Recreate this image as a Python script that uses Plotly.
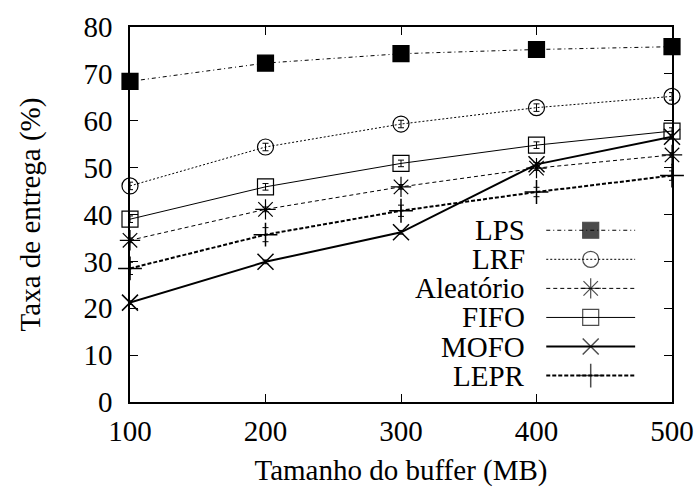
import plotly.graph_objects as go

# Buffer sizes (MB)
buffer_mb = [100, 200, 300, 400, 500]

# Delivery rate (%) per buffer-management policy, with error margins
lps = [68.4, 72.3, 74.3, 75.2, 75.8]
lps_err = [0.4, 0.4, 0.4, 0.4, 0.4]
lrf = [46.1, 54.4, 59.3, 62.8, 65.2]
lrf_err = [0.8, 0.8, 0.8, 0.8, 0.8]
aleatorio = [34.5, 41.1, 45.9, 49.9, 52.7]
aleatorio_err = [0.5, 0.5, 0.5, 0.5, 0.5]
fifo = [39.0, 45.9, 50.9, 54.8, 57.8]
fifo_err = [0.7, 0.7, 0.7, 0.7, 0.7]
mofo = [21.2, 29.9, 36.2, 50.7, 56.6]
mofo_err = [0.4, 0.4, 0.4, 0.4, 0.4]
lepr = [28.5, 35.7, 40.8, 44.8, 48.3]
lepr_err = [1.3, 1.5, 1.2, 1.0, 1.0]

x_ticks = [100, 200, 300, 400, 500]
y_ticks = [0, 10, 20, 30, 40, 50, 60, 70, 80]

FONT = "Liberation Serif"
FS = 29

# name, values, errors, marker symbol, line dash, line width, marker size
series = [
    ("LPS", lps, lps_err, "square", "4px,3px,1px,3px", 1, 16),
    ("LRF", lrf, lrf_err, "circle-open", "2px,2px", 1, 16),
    ("Aleatório", aleatorio, aleatorio_err, "asterisk-open", "4px,3px", 1, 17),
    ("FIFO", fifo, fifo_err, "square-open", "solid", 1, 16),
    ("MOFO", mofo, mofo_err, "x-thin-open", "solid", 2, 16),
    ("LEPR", lepr, lepr_err, "cross-thin-open", "4px,2px", 2, 17),
]

fig = go.Figure()

for name, vals, errs, sym, dash, lw, ms in series:
    fig.add_trace(go.Scatter(
        x=buffer_mb, y=vals, name=name, mode="lines+markers",
        line=dict(color="black", width=lw, dash=dash),
        marker=dict(symbol=sym, size=ms, color="black",
                    line=dict(color="black", width=1.5 if lw > 1 else 1.2)),
        error_y=dict(type="data", array=errs, visible=True,
                     color="black", thickness=1, width=3),
        showlegend=False, cliponaxis=False,
    ))

# Key box in the lower right: label on the left, line sample on the right
key_x0, key_x1 = 0.768, 0.932
key_top, key_step = 0.458, 0.0775
annotations = []
for i, (name, vals, errs, sym, dash, lw, ms) in enumerate(series):
    ky = key_top - i * key_step
    fig.add_trace(go.Scatter(
        x=[key_x0, (key_x0 + key_x1) / 2, key_x1], y=[ky, ky, ky],
        xaxis="x2", yaxis="y2", mode="lines+markers",
        line=dict(color="black", width=lw, dash=dash),
        marker=dict(symbol=sym, size=[0, ms, 0], color="black",
                    line=dict(color="black", width=1.5 if lw > 1 else 1.2)),
        showlegend=False, hoverinfo="skip",
    ))
    annotations.append(dict(
        x=0.7325, y=ky, xref="paper", yref="paper", text=name,
        showarrow=False, xanchor="right", yanchor="middle",
        font=dict(family=FONT, size=FS, color="black"),
    ))

axis_common = dict(
    showgrid=False, zeroline=False, showline=True, linecolor="black",
    linewidth=1.5, mirror="allticks", ticks="inside", ticklen=8,
    tickwidth=1, tickcolor="black", automargin=False,
    tickfont=dict(family=FONT, size=FS, color="black"),
)

fig.update_layout(
    width=700, height=491,
    margin=dict(l=130, r=28, t=26.5, b=89),
    paper_bgcolor="white", plot_bgcolor="white",
    font=dict(family=FONT, color="black"),
    xaxis=dict(range=[100, 500], tickvals=x_ticks, ticklabelstandoff=2,
               title=dict(text="Tamanho do buffer (MB)", standoff=14,
                          font=dict(family=FONT, size=FS, color="black")),
               **axis_common),
    yaxis=dict(range=[0, 80], tickvals=y_ticks, ticklabelstandoff=10,
               title=dict(text="Taxa de entrega (%)", standoff=34,
                          font=dict(family=FONT, size=FS, color="black")),
               **axis_common),
    xaxis2=dict(range=[0, 1], overlaying="x", visible=False),
    yaxis2=dict(range=[0, 1], overlaying="y", visible=False),
    annotations=annotations,
)

fig.write_html("out.html")
